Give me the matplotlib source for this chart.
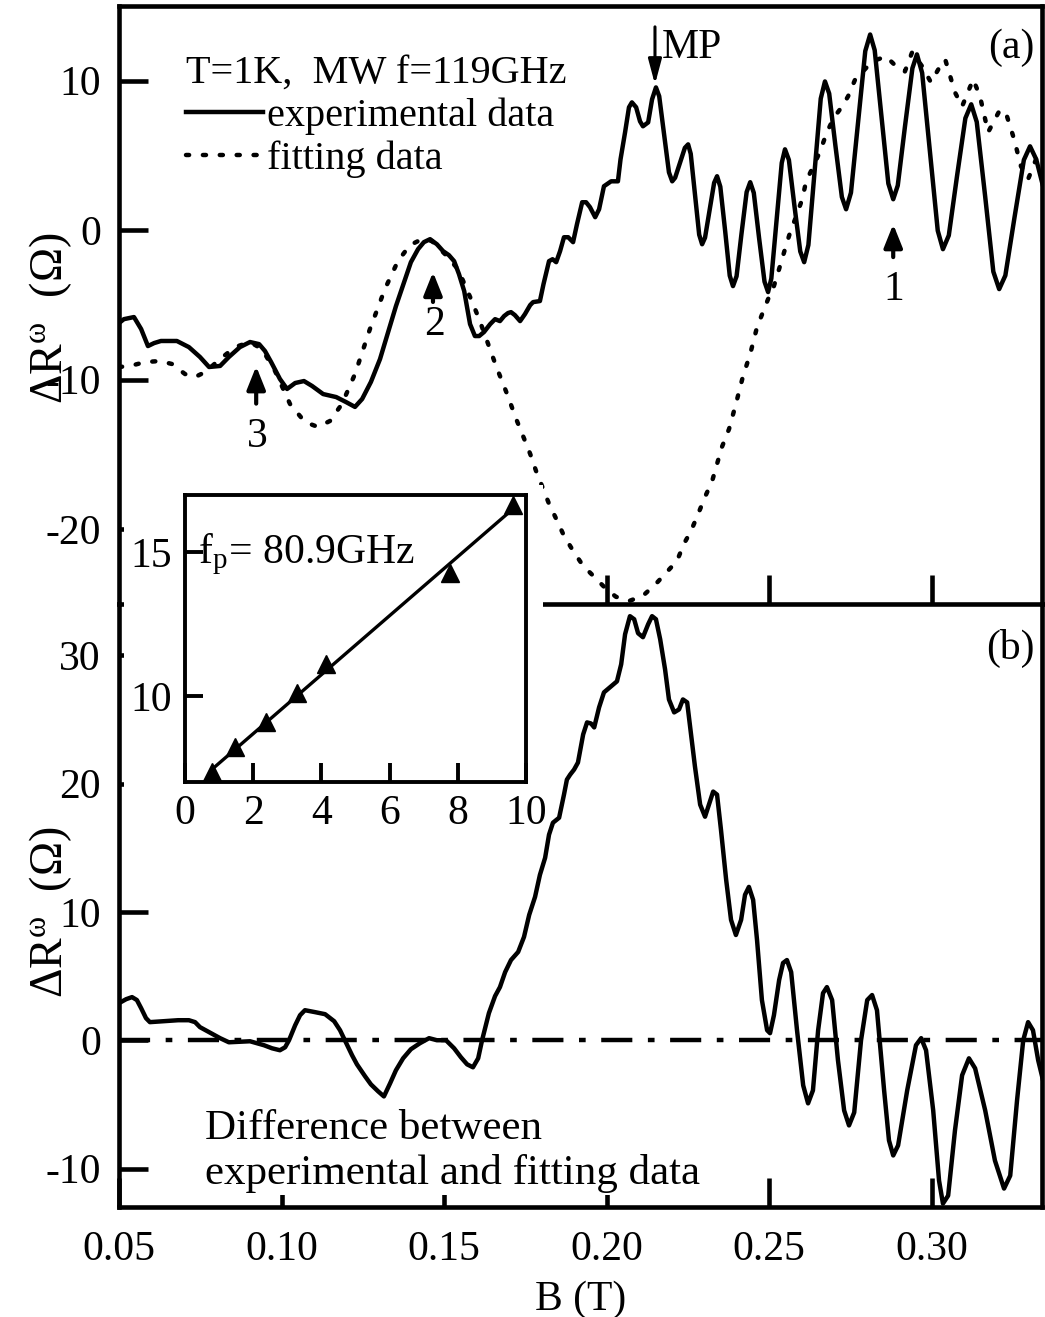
import matplotlib
matplotlib.use('Agg')
import matplotlib.pyplot as plt
from matplotlib.patches import Rectangle

plt.rcParams['font.family'] = ['Liberation Serif', 'DejaVu Serif']
plt.rcParams['mathtext.fontset'] = 'stix'
plt.rcParams['axes.unicode_minus'] = False

# (a) measured Delta R vs B
b_exp = [0.0500, 0.0515, 0.0546, 0.0568, 0.0589, 0.0608, 0.0629, 0.0678, 0.0715, 0.0749,
         0.0777, 0.0811, 0.0838, 0.0872, 0.0903, 0.0931, 0.0949, 0.0968, 0.0995, 0.1017,
         0.1042, 0.1069, 0.1094, 0.1128, 0.1168, 0.1198, 0.1226, 0.1248, 0.1275, 0.1303,
         0.1328, 0.1352, 0.1377, 0.1398, 0.1420, 0.1438, 0.1457, 0.1478, 0.1497, 0.1515,
         0.1531, 0.1546, 0.1562, 0.1580, 0.1595, 0.1608, 0.1623, 0.1642, 0.1657, 0.1672,
         0.1685, 0.1697, 0.1706, 0.1718, 0.1734, 0.1749, 0.1765, 0.1774, 0.1795, 0.1806,
         0.1823, 0.1834, 0.1845, 0.1857, 0.1869, 0.1882, 0.1897, 0.1909, 0.1925, 0.1937,
         0.1949, 0.1965, 0.1977, 0.1992, 0.2014, 0.2035, 0.2043, 0.2057, 0.2069, 0.2078,
         0.2091, 0.2103, 0.2112, 0.2128, 0.2140, 0.2152,
         0.2162, 0.2177, 0.2192, 0.2202, 0.2211, 0.2226, 0.2241, 0.2251, 0.2259, 0.2272,
         0.2285, 0.2294, 0.2303, 0.2317, 0.2331, 0.2340, 0.2350, 0.2365, 0.2379, 0.2389,
         0.2400, 0.2415, 0.2431, 0.2442, 0.2453, 0.2469, 0.2486, 0.2497, 0.2507, 0.2523,
         0.2539, 0.2549, 0.2561, 0.2578, 0.2596, 0.2608, 0.2621, 0.2640, 0.2659, 0.2672,
         0.2685, 0.2704, 0.2724, 0.2737, 0.2752, 0.2774, 0.2796, 0.2811, 0.2825, 0.2846,
         0.2867, 0.2882, 0.2896, 0.2918, 0.2941, 0.2955, 0.2971, 0.2995, 0.3019, 0.3035,
         0.3053, 0.3078, 0.3104, 0.3122, 0.3139, 0.3165, 0.3190, 0.3208, 0.3227, 0.3255,
         0.3284, 0.3303, 0.3322, 0.3343]
r_exp = [-6.21, -5.95, -5.81, -6.61, -7.75, -7.55, -7.41, -7.41, -7.82, -8.48,
         -9.15, -9.08, -8.48, -7.82, -7.48, -7.62, -8.08, -8.82, -9.95, -10.62,
         -10.22, -10.09, -10.42, -10.96, -11.16, -11.49, -11.82, -11.29, -10.15, -8.62,
         -6.81, -5.08, -3.47, -2.14, -1.27, -0.80, -0.60, -0.94, -1.40, -1.67,
         -2.07, -2.94, -4.07, -6.28, -7.08, -7.08, -6.81, -6.28, -5.95, -6.08,
         -5.74, -5.54, -5.48, -5.68, -6.08, -5.61, -5.01, -4.81, -4.74, -3.61,
         -2.07, -1.94, -2.14, -1.40, -0.47, -0.47, -0.80, 0.40, 1.87, 1.87,
         1.54, 0.87, 1.40, 2.94, 3.27, 3.27, 4.74, 6.55, 8.22, 8.55,
         8.22, 7.28, 6.95, 7.21, 8.75, 9.55,
         8.96, 6.41, 3.87, 3.27, 3.51, 4.51, 5.51, 5.74, 5.11, 2.40,
         -0.30, -0.94, -0.50, 1.34, 3.17, 3.61, 2.91, -0.07, -3.04, -3.74,
         -3.08, -0.27, 2.55, 3.21, 2.50, -0.47, -3.44, -4.14, -3.23, 0.63,
         4.50, 5.41, 4.70, 1.64, -1.42, -2.14, -0.99, 3.91, 8.80, 9.95,
         9.14, 5.68, 2.22, 1.40, 2.51, 7.25, 11.98, 13.09, 12.04, 7.58,
         3.12, 2.07, 2.99, 6.91, 10.83, 11.76, 10.52, 5.24, -0.03, -1.27,
         -0.35, 3.57, 7.49, 8.42, 7.24, 2.24, -2.77, -3.94, -3.03, 0.83,
         4.70, 5.61, 4.74, 2.94]

# (a) fitted curve
b_fit = [0.0500, 0.0534, 0.0580, 0.0626, 0.0663, 0.0703, 0.0734, 0.0765, 0.0811, 0.0857,
         0.0903, 0.0940, 0.0980, 0.1026, 0.1072, 0.1112, 0.1149, 0.1186, 0.1226, 0.1272,
         0.1318, 0.1358, 0.1395, 0.1432, 0.1463, 0.1503, 0.1543, 0.1583, 0.1608, 0.1638,
         0.1660, 0.1694, 0.1722, 0.1743, 0.1765, 0.1783, 0.1823, 0.1848, 0.1869, 0.1897,
         0.1928, 0.1962, 0.1998, 0.2029, 0.2072, 0.2112, 0.2152, 0.2186, 0.2217, 0.2238,
         0.2260, 0.2282, 0.2303, 0.2325, 0.2340, 0.2355, 0.2377, 0.2398, 0.2420, 0.2442,
         0.2463, 0.2497, 0.2512, 0.2528, 0.2549, 0.2565, 0.2580, 0.2602, 0.2614, 0.2642,
         0.2657, 0.2678, 0.2700, 0.2725, 0.2743, 0.2765, 0.2789, 0.2817, 0.2860, 0.2891,
         0.2918, 0.2940, 0.2971, 0.2998, 0.3026, 0.3042, 0.3072, 0.3094, 0.3128, 0.3149,
         0.3174, 0.3211, 0.3232, 0.3254, 0.3275, 0.3297, 0.3325, 0.3343]
r_fit = [-9.15, -9.08, -8.82, -8.75, -8.95, -9.62, -9.82, -9.49, -8.62, -7.82,
         -7.48, -7.95, -9.42, -11.62, -12.83, -13.16, -12.76, -11.62, -9.62, -6.61,
         -3.94, -2.07, -1.00, -0.60, -0.73, -1.60, -2.61, -4.61, -5.95, -7.75,
         -9.08, -10.96, -12.63, -13.76, -14.96, -16.10, -18.30, -19.44, -20.44, -21.44,
         -22.45, -23.18, -23.98, -24.52, -24.78, -24.45, -23.65, -22.85, -22.11, -20.98,
         -20.11, -18.97, -17.84, -16.77, -15.63, -14.50, -13.29, -11.62, -9.75, -8.28,
         -6.48, -4.61, -3.94, -2.81, -1.27, -0.13, 0.73, 2.07, 3.27, 4.54,
         5.28, 6.55, 7.55, 8.28, 8.95, 10.09, 10.62, 11.29, 11.62, 10.96,
         10.62, 11.89, 10.96, 9.89, 10.96, 11.42, 9.22, 8.28, 10.09, 8.95,
         6.55, 8.08, 7.62, 6.08, 4.28, 3.41, 4.94, 5.41]

# (b) experimental minus fit
b_diff = [0.0500, 0.0522, 0.0540, 0.0555, 0.0568, 0.0583, 0.0595, 0.0638, 0.0682, 0.0715,
          0.0734, 0.0749, 0.0783, 0.0811, 0.0838, 0.0903, 0.0946, 0.0971, 0.0995, 0.1011,
          0.1023, 0.1042, 0.1057, 0.1072, 0.1103, 0.1134, 0.1162, 0.1180, 0.1198, 0.1217,
          0.1232, 0.1257, 0.1275, 0.1297, 0.1315, 0.1334, 0.1352, 0.1374, 0.1398, 0.1426,
          0.1454, 0.1478, 0.1506, 0.1531, 0.1552, 0.1571, 0.1589, 0.1605, 0.1617, 0.1638,
          0.1657, 0.1672, 0.1688, 0.1706, 0.1728, 0.1746, 0.1762, 0.1780, 0.1795, 0.1811,
          0.1823, 0.1835, 0.1854, 0.1869, 0.1878, 0.1888, 0.1900, 0.1912, 0.1928, 0.1940,
          0.1952, 0.1962, 0.1977, 0.1992, 0.2014, 0.2032, 0.2045, 0.2057, 0.2072, 0.2085,
          0.2097, 0.2112, 0.2128, 0.2140, 0.2152, 0.2165, 0.2180, 0.2192, 0.2208, 0.2223,
          0.2235, 0.2248, 0.2260, 0.2272, 0.2288, 0.2303, 0.2315, 0.2328, 0.2340, 0.2352,
          0.2368, 0.2383, 0.2398, 0.2414, 0.2426, 0.2438, 0.2451, 0.2463, 0.2478, 0.2494,
          0.2503, 0.2515, 0.2531, 0.2543, 0.2555, 0.2568, 0.2586, 0.2605, 0.2620, 0.2635,
          0.2651, 0.2666, 0.2678, 0.2694, 0.2712, 0.2731, 0.2746, 0.2762, 0.2783, 0.2802,
          0.2817, 0.2832, 0.2854, 0.2869, 0.2882, 0.2897, 0.2925, 0.2952, 0.2968, 0.2983,
          0.3005, 0.3023, 0.3035, 0.3051, 0.3072, 0.3094, 0.3115, 0.3134, 0.3165, 0.3195,
          0.3223, 0.3242, 0.3263, 0.3282, 0.3297, 0.3312, 0.3328, 0.3343]
r_diff = [2.89, 3.20, 3.36, 3.13, 2.50, 1.72, 1.41, 1.48, 1.56, 1.56,
          1.41, 1.02, 0.55, 0.16, -0.16, -0.08, -0.39, -0.63, -0.78, -0.55,
          0.00, 1.17, 1.95, 2.34, 2.19, 2.03, 1.48, 0.78, -0.16, -1.17,
          -1.88, -2.81, -3.44, -3.98, -4.38, -3.36, -2.34, -1.41, -0.70, -0.23,
          0.16, 0.00, 0.00, -0.63, -1.33, -1.88, -2.11, -1.41, 0.00, 2.11,
          3.44, 4.14, 5.31, 6.25, 6.88, 8.05, 9.77, 11.17, 12.89, 14.22,
          16.02, 16.95, 17.34, 19.14, 20.31, 20.70, 21.09, 21.64, 23.83, 24.77,
          24.69, 24.38, 25.94, 27.11, 27.58, 27.97, 29.30, 31.64, 33.05, 32.81,
          31.72, 31.41, 32.42, 33.05, 32.81, 31.25, 28.91, 26.56, 25.55, 25.78,
          26.56, 26.33, 23.83, 21.33, 18.36, 17.42, 18.36, 19.38, 19.14, 16.41,
          12.50, 9.38, 8.20, 9.38, 11.33, 11.95, 10.94, 7.81, 3.13, 0.78,
          0.55, 1.95, 4.69, 6.02, 6.25, 5.31, 0.78, -3.52, -4.92, -3.91,
          0.78, 3.67, 4.14, 3.13, -1.56, -5.47, -6.64, -5.63, 0.00, 3.13,
          3.52, 2.34, -3.91, -7.81, -8.98, -8.20, -3.91, -0.39, 0.16, -0.78,
          -5.47, -10.94, -12.73, -12.11, -7.03, -2.73, -1.41, -2.19, -5.47, -9.38,
          -11.56, -10.55, -4.69, 0.00, 1.41, 0.78, -1.56, -3.13]

# inset: resonance positions and linear fit
inset_x = [0.78, 1.47, 2.38, 3.30, 4.13, 7.77, 9.61]
inset_y = [7.36, 8.23, 9.10, 10.09, 11.11, 14.27, 16.65]
inset_fit_x = [0.8, 9.7]
inset_fit_y = [7.45, 16.6]

xticks_b = [0.05, 0.10, 0.15, 0.20, 0.25, 0.30]
xtick_labels = ['0.05', '0.10', '0.15', '0.20', '0.25', '0.30']
yticks_a = [-20, -10, 0, 10]
yticks_b = [-10, 0, 10, 20, 30]

FS = 30
LW = 3.2
SP = 3.3
TL = 21

fig = plt.figure(figsize=(10.45, 13.17), dpi=100)
ax_a = fig.add_axes([0.1139, 0.5414, 0.8833, 0.4541])
ax_b = fig.add_axes([0.1139, 0.0835, 0.8833, 0.4579])
ax_b.patch.set_visible(False)

for ax in (ax_a, ax_b):
    ax.set_xlim(0.05, 0.334)
    for s in ax.spines.values():
        s.set_linewidth(SP)
    ax.tick_params(direction='in', length=TL, width=SP, labelsize=FS,
                   top=False, right=False, pad=13)
ax_a.set_ylim(-25, 15)
ax_b.set_ylim(-13, 34)
ax_b.spines['top'].set_visible(False)

ax_a.set_yticks(yticks_a)
ax_a.set_xticks(xticks_b[1:])
ax_a.tick_params(labelbottom=False)
ax_b.set_yticks(yticks_b)
ax_b.set_xticks(xticks_b, xtick_labels)
ax_b.tick_params(axis='x', pad=17)

ln_exp, = ax_a.plot(b_exp, r_exp, color='k', lw=LW, solid_joinstyle='round')
ln_fit, = ax_a.plot(b_fit, r_fit, color='k', lw=LW, linestyle=(0, (0.7, 3.1)),
                    dash_capstyle='round')
leg = ax_a.legend([ln_exp, ln_fit], ['experimental data', 'fitting data'],
                  title='T=1K,  MW f=119GHz', title_fontsize=29, fontsize=29,
                  loc='upper left', bbox_to_anchor=(0.073, 0.918), frameon=False,
                  borderpad=0, borderaxespad=0, handlelength=1.9, handletextpad=0.1,
                  labelspacing=0.14, alignment='left')

arrow_big = dict(arrowstyle='-|>,head_length=0.75,head_width=0.2', color='k',
                 lw=2.2, mutation_scale=20, shrinkA=0, shrinkB=0)
arrow_small = dict(arrowstyle='-|>,head_length=0.7,head_width=0.28', color='k',
                   lw=3.0, mutation_scale=20, shrinkA=0, shrinkB=0)
ax_a.annotate('', xy=(0.2149, 9.75), xytext=(0.2149, 13.6), arrowprops=arrow_big)
ax_a.text(0.2171, 12.2, 'MP', fontsize=FS, ha='left', va='center')
ax_a.annotate('', xy=(0.2882, 0.4), xytext=(0.2882, -1.8), arrowprops=arrow_small)
ax_a.text(0.2885, -4.0, '1', fontsize=FS, ha='center', va='center')
ax_a.annotate('', xy=(0.1466, -2.8), xytext=(0.1466, -4.8), arrowprops=arrow_small)
ax_a.text(0.1470, -6.3, '2', fontsize=FS, ha='center', va='center')
ax_a.annotate('', xy=(0.0922, -9.1), xytext=(0.0922, -11.6), arrowprops=arrow_small)
ax_a.text(0.0925, -13.8, '3', fontsize=FS, ha='center', va='center')
ax_a.text(0.3318, 12.2, '(a)', fontsize=FS, ha='right', va='center')

ax_b.plot(b_diff, r_diff, color='k', lw=LW, solid_joinstyle='round')
ax_b.axhline(0, color='k', lw=LW, linestyle=(0, (7.0, 3.5, 1.5, 3.5)))
ax_b.text(0.3318, 30.5, '(b)', fontsize=FS, ha='right', va='center')
ax_b.text(0.0764, -11.9, 'Difference between\nexperimental and fitting data',
          fontsize=31, ha='left', va='bottom', linespacing=1.2, zorder=5,
          bbox=dict(facecolor='white', edgecolor='none', pad=1.5))
ax_b.set_xlabel('B (T)', fontsize=FS, labelpad=8)

ylab = r'ΔR$^{\mathregular{ω}}$  (Ω)'
fig.text(0.048, 1 - 318 / 1317, ylab, fontsize=33, rotation=90, ha='center', va='center')
fig.text(0.048, 1 - 912 / 1317, ylab, fontsize=33, rotation=90, ha='center', va='center')

# white backing behind the inset and its tick labels
fig.patches.append(Rectangle((124 / 1045, 1 - 840 / 1317), (543 - 124) / 1045,
                             (840 - 485) / 1317, transform=fig.transFigure,
                             facecolor='white', edgecolor='none', zorder=2))

ax_in = fig.add_axes([0.1770, 0.4062, 0.3263, 0.2179])
ax_in.set_zorder(3)
ax_in.plot(inset_fit_x, inset_fit_y, color='k', lw=2.4)
ax_in.plot(inset_x, inset_y, linestyle='none', marker='^', ms=13, color='k', clip_on=False)
ax_in.set_xlim(0, 10)
ax_in.set_ylim(7, 17)
ax_in.set_xticks([0, 2, 4, 6, 8, 10])
ax_in.set_yticks([10, 15])
for s in ax_in.spines.values():
    s.set_linewidth(2.8)
ax_in.tick_params(direction='in', width=2.8, labelsize=FS, top=False, right=False)
ax_in.tick_params(axis='x', length=14, pad=9)
ax_in.tick_params(axis='y', length=13, pad=9)
ax_in.text(0.38, 14.63, r'f$_\mathregular{p}$= 80.9GHz', fontsize=FS, ha='left',
           va='baseline')

fig.savefig('out.png', dpi=100)
